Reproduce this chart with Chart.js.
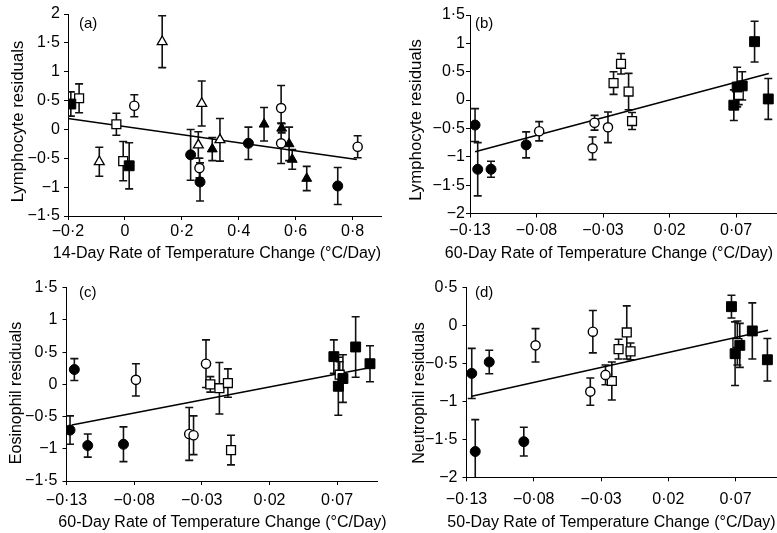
<!DOCTYPE html>
<html><head><meta charset="utf-8">
<script src="https://cdn.jsdelivr.net/npm/chart.js@4"></script>
<style>
html,body{margin:0;padding:0;background:#fff;width:777px;height:533px;overflow:hidden}
canvas{position:absolute;left:0;top:0}
</style></head><body>
<canvas id="ca" width="777" height="533"></canvas>
<canvas id="cb" width="777" height="533"></canvas>
<canvas id="cc" width="777" height="533"></canvas>
<canvas id="cd" width="777" height="533"></canvas>
<script>
// ---------- DATA: each point is [x, y, error] ----------
// Panel (a): 14-day rate vs lymphocyte residuals
const aFilledCircle = [[0.231,-0.44,0.44],[0.264,-0.91,0.33],[0.434,-0.24,0.28],[0.748,-0.98,0.32]];
const aOpenCircle   = [[0.033,0.41,0.19],[0.262,-0.67,0.17],[0.549,0.37,0.39],[0.549,-0.24,0.35],[0.818,-0.30,0.19]];
const aFilledSquare = [[-0.190,0.44,0.21],[0.015,-0.63,0.40]];
const aOpenSquare   = [[-0.161,0.54,0.25],[-0.030,0.09,0.19],[-0.006,-0.55,0.34]];
const aFilledTri    = [[0.307,-0.34,0.20],[0.489,0.09,0.29],[0.551,0.02,0.08],[0.577,-0.25,0.29],[0.588,-0.52,0.17],[0.639,-0.85,0.21]];
const aOpenTri      = [[-0.090,-0.56,0.25],[0.131,1.52,0.45],[0.270,0.45,0.39],[0.258,-0.27,0.23],[0.334,-0.18,0.37]];
const aLineX = [-0.2, 0.815], aLineY = [0.19, -0.52];
const aXTicks = [-0.2, 0, 0.2, 0.4, 0.6, 0.8];
const aYTicks = [2, 1.5, 1, 0.5, 0, -0.5, -1, -1.5];

// Panel (b): 60-day rate vs lymphocyte residuals
const bFilledCircle = [[-0.1262,-0.44,0.29],[-0.1242,-1.22,0.47],[-0.1142,-1.22,0.14],[-0.0878,-0.79,0.23]];
const bOpenCircle   = [[-0.078,-0.55,0.17],[-0.0364,-0.40,0.13],[-0.0263,-0.48,0.27],[-0.0379,-0.85,0.20]];
const bOpenSquare   = [[-0.0165,0.64,0.18],[-0.0221,0.30,0.20],[-0.0108,0.15,0.32],[-0.0082,-0.37,0.15],[0.072,0.09,0.17]];
const bFilledSquare = [[0.0683,-0.09,0.27],[0.0708,0.23,0.35],[0.0746,0.25,0.25],[0.0839,1.03,0.36],[0.0942,0.02,0.36]];
const bLineX = [-0.1262, 0.0946], bLineY = [-0.91, 0.47];
const bXTicks = [-0.13, -0.08, -0.03, 0.02, 0.07];
const bYTicks = [1.5, 1, 0.5, 0, -0.5, -1, -1.5, -2];

// Panel (c): 60-day rate vs eosinophil residuals
const cFilledCircle = [[-0.1242,0.23,0.17],[-0.1274,-0.71,0.22],[-0.1143,-0.95,0.18],[-0.0879,-0.93,0.27]];
const cOpenCircle   = [[-0.0787,0.07,0.25],[-0.0393,-0.77,0.41],[-0.0361,-0.79,0.30],[-0.0269,0.32,0.37]];
const cOpenSquare   = [[-0.0237,0.00,0.12],[-0.017,-0.06,0.40],[-0.0107,0.02,0.22],[-0.0084,-1.02,0.23],[0.0719,0.15,0.20]];
const cFilledSquare = [[0.0676,0.43,0.26],[0.0709,-0.03,0.45],[0.0743,0.09,0.37],[0.0837,0.58,0.47],[0.0943,0.32,0.28]];
const cLineX = [-0.1261, 0.0948], cLineY = [-0.63, 0.26];
const cXTicks = [-0.13, -0.08, -0.03, 0.02, 0.07];
const cYTicks = [1.5, 1, 0.5, 0, -0.5, -1, -1.5];

// Panel (d): 50-day rate vs neutrophil residuals
const dFilledCircle = [[-0.1261,-0.63,0.33],[-0.1131,-0.48,0.155],[-0.1235,-1.66,0.42],[-0.0874,-1.53,0.19]];
const dOpenCircle   = [[-0.0787,-0.26,0.22],[-0.0361,-0.08,0.28],[-0.0267,-0.65,0.13],[-0.038,-0.87,0.18]];
const dOpenSquare   = [[-0.0109,-0.09,0.35],[-0.017,-0.31,0.13],[-0.0081,-0.34,0.11],[-0.022,-0.73,0.25],[0.0713,-0.23,0.29]];
const dFilledSquare = [[0.0669,0.25,0.15],[0.0696,-0.37,0.42],[0.0731,-0.26,0.29],[0.0824,-0.07,0.37],[0.0936,-0.45,0.28]];
const dLineX = [-0.1261, 0.0941], dLineY = [-0.93, -0.06];
const dXTicks = [-0.13, -0.08, -0.03, 0.02, 0.07];
const dYTicks = [0.5, 0, -0.5, -1, -1.5, -2];

const xTitles = ['14-Day Rate of Temperature Change (°C/Day)','60-Day Rate of Temperature Change (°C/Day)','60-Day Rate of Temperature Change (°C/Day)','50-Day Rate of Temperature Change (°C/Day)'];
const yTitles = ['Lymphocyte residuals','Lymphocyte residuals','Eosinophil residuals','Neutrophil residuals'];
const panelLabels = ['(a)','(b)','(c)','(d)'];

// ---------- rendering ----------
const FONT = '"Liberation Sans", Arial, Helvetica, sans-serif';
Chart.defaults.font.family = FONT;
Chart.defaults.font.size = 16;
Chart.defaults.color = '#000';

const fmt = v => (v < 0 ? '\u2212' : '') + String(Math.abs(v)).replace('.', '\u00b7');

const STYLES = {
  fc: {pointStyle:'circle', pointRadius:5, backgroundColor:'#000', borderColor:'#000', borderWidth:1},
  oc: {pointStyle:'circle', pointRadius:4.6, backgroundColor:'#fff', borderColor:'#000', borderWidth:1.4},
  fs: {pointStyle:'rect', pointRadius:7, backgroundColor:'#000', borderColor:'#000', borderWidth:1},
  os: {pointStyle:'rect', pointRadius:6.3, backgroundColor:'#fff', borderColor:'#000', borderWidth:1.3},
  ft: {pointStyle:'triangle', pointRadius:5.7, backgroundColor:'#000', borderColor:'#000', borderWidth:1},
  ot: {pointStyle:'triangle', pointRadius:5.7, backgroundColor:'#fff', borderColor:'#000', borderWidth:1.3}
};

const errorBars = {
  id: 'errorBars',
  beforeDatasetsDraw(chart) {
    const {ctx, chartArea: a, scales: {x, y}} = chart;
    ctx.save();
    ctx.beginPath();
    ctx.rect(a.left, a.top - 4, a.right - a.left + 4, a.bottom - a.top + 4);
    ctx.clip();
    ctx.strokeStyle = '#111';
    ctx.lineWidth = 1.6;
    chart.data.datasets.forEach(ds => {
      if (!ds.errors) return;
      ds.data.forEach((p, i) => {
        const e = ds.errors[i];
        const px = x.getPixelForValue(p.x);
        const t = y.getPixelForValue(p.y + e), b = y.getPixelForValue(p.y - e);
        ctx.beginPath();
        ctx.moveTo(px, t); ctx.lineTo(px, b);
        ctx.moveTo(px - 4, t); ctx.lineTo(px + 4, t);
        ctx.moveTo(px - 4, b); ctx.lineTo(px + 4, b);
        ctx.stroke();
      });
    });
    ctx.restore();
  }
};

const texts = {
  id: 'texts',
  afterDraw(chart, args, opts) {
    const ctx = chart.ctx;
    ctx.save();
    ctx.fillStyle = '#000';
    ctx.textBaseline = 'middle';
    ctx.font = '15px ' + FONT;
    ctx.textAlign = 'left';
    ctx.fillText(opts.label, opts.labelPos[0], opts.labelPos[1]);
    ctx.font = opts.titleSize + 'px ' + FONT;
    ctx.textAlign = 'center';
    ctx.fillText(opts.xTitle, opts.xTitlePos[0], opts.xTitlePos[1]);
    ctx.translate(opts.yTitlePos[0], opts.yTitlePos[1]);
    ctx.rotate(-Math.PI / 2);
    ctx.font = opts.yTitleSize + 'px ' + FONT;
    ctx.fillText(opts.yTitle, 0, 0);
    ctx.restore();
  }
};

const panels = [
  {id:'ca', L:68, R:381, T:14, B:216, xr:[-0.2,0.9], yr:[-1.5,2], xt:aXTicks, yt:aYTicks, xPad:2, yPad:4,
   g:{fc:aFilledCircle, oc:aOpenCircle, fs:aFilledSquare, os:aOpenSquare, ft:aFilledTri, ot:aOpenTri},
   lx:aLineX, ly:aLineY, labelPos:[79,24], xTitlePos:[217,254], yTitlePos:[18.5,121.5], ys:16.8},
  {id:'cb', L:470, R:776, T:15, B:213.5, xr:[-0.13,0.10], yr:[-2,1.5], xt:bXTicks, yt:bYTicks, xPad:3, yPad:1,
   g:{fc:bFilledCircle, oc:bOpenCircle, fs:bFilledSquare, os:bOpenSquare},
   lx:bLineX, ly:bLineY, labelPos:[475,24], xTitlePos:[609,254], yTitlePos:[416.5,120], ys:16.8},
  {id:'cc', L:66.5, R:377.7, T:287.7, B:481, xr:[-0.13,0.10], yr:[-1.5,1.5], xt:cXTicks, yt:cYTicks, xPad:6, yPad:5,
   g:{fc:cFilledCircle, oc:cOpenCircle, fs:cFilledSquare, os:cOpenSquare},
   lx:cLineX, ly:cLineY, labelPos:[79,293], xTitlePos:[222.5,523], yTitlePos:[16.5,393], ys:16},
  {id:'cd', L:466.5, R:776, T:287.7, B:477.3, xr:[-0.13,0.10], yr:[-2,0.5], xt:dXTicks, yt:dYTicks, xPad:9, yPad:5,
   g:{fc:dFilledCircle, oc:dOpenCircle, fs:dFilledSquare, os:dOpenSquare},
   lx:dLineX, ly:dLineY, labelPos:[475,293], xTitlePos:[611.5,523], yTitlePos:[420,393], ys:16}
];

const YW = 50, XH = 30;
panels.forEach((p, idx) => {
  const datasets = [];
  datasets.push({
    data: p.lx.map((x, i) => ({x, y: p.ly[i]})),
    showLine: true, borderColor: '#000', borderWidth: 1.5, pointRadius: 0, order: 10, fill: false
  });
  Object.keys(p.g).forEach(k => {
    const arr = p.g[k];
    datasets.push(Object.assign({
      data: arr.map(v => ({x: v[0], y: v[1]})),
      errors: arr.map(v => v[2]),
      order: 0
    }, STYLES[k]));
  });
  const axisCommon = (ticks, pad) => ({
    type: 'linear',
    grid: {display: true, drawOnChartArea: false, drawTicks: true, tickLength: 4, color: '#000', lineWidth: 1},
    border: {display: true, color: '#000', width: 1},
    ticks: {padding: pad, color: '#000', font: {size: 16}, callback: v => fmt(v)},
    afterBuildTicks: s => { s.ticks = ticks.map(v => ({value: v})); }
  });
  const xs = axisCommon(p.xt, p.xPad);
  xs.min = p.xr[0]; xs.max = p.xr[1]; xs.position = 'bottom';
  xs.afterFit = s => { s.height = XH; };
  const ys = axisCommon(p.yt, p.yPad);
  ys.min = p.yr[0]; ys.max = p.yr[1]; ys.position = 'left';
  ys.afterFit = s => { s.width = YW; };
  new Chart(document.getElementById(p.id), {
    type: 'scatter',
    data: {datasets},
    options: {
      responsive: false, animation: false, events: [],
      layout: {autoPadding: false, padding: {left: p.L - YW, right: 777 - p.R, top: p.T, bottom: 533 - p.B - XH}},
      scales: {x: xs, y: ys},
      plugins: {
        legend: {display: false}, tooltip: {enabled: false},
        texts: {label: panelLabels[idx], labelPos: p.labelPos, xTitle: xTitles[idx], xTitlePos: p.xTitlePos,
                yTitle: yTitles[idx], yTitlePos: p.yTitlePos, titleSize: 16, yTitleSize: p.ys}
      }
    },
    plugins: [errorBars, texts]
  });
});
</script>
</body></html>
